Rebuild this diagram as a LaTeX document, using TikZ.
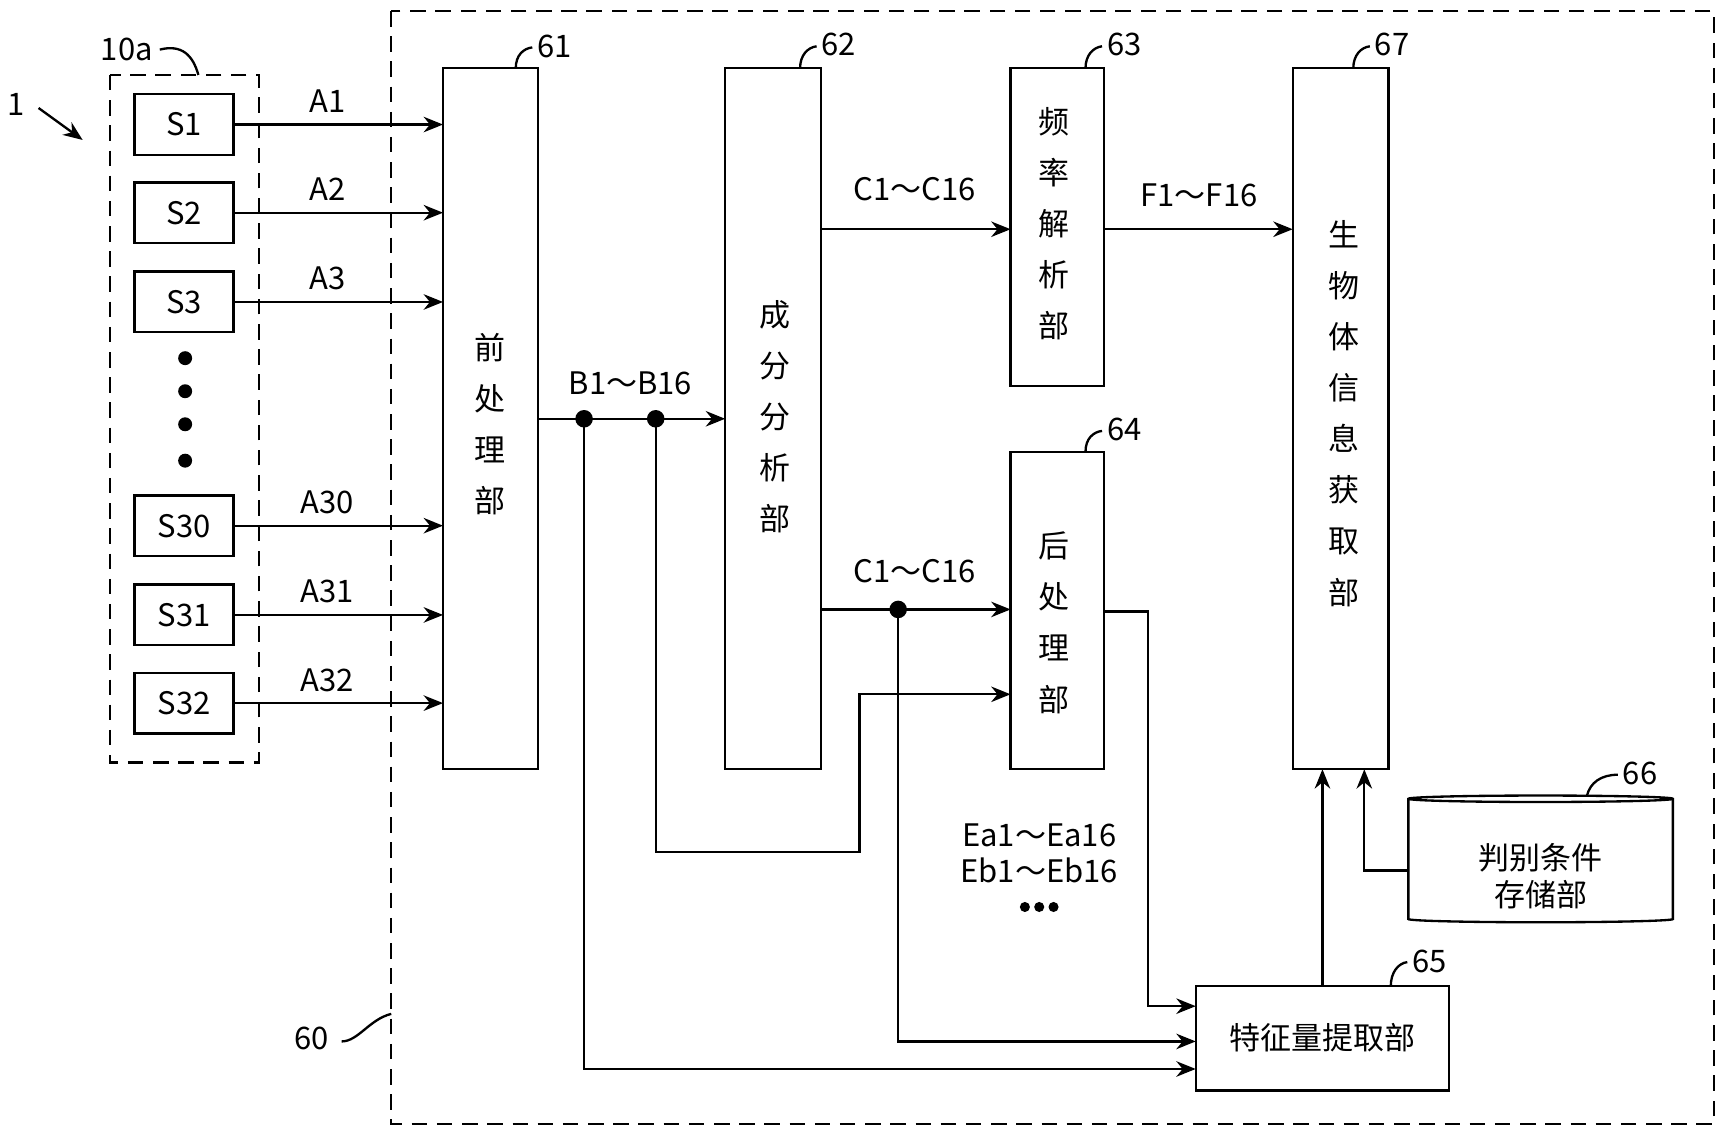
\documentclass[tikz,border=0pt]{standalone}
\usepackage{fontspec}
\setmainfont{Noto Sans CJK SC}
\usetikzlibrary{arrows.meta,shapes.geometric}
\begin{document}
\begin{tikzpicture}[x=0.01cm,y=-0.01cm,line width=0.6pt,
 lbl/.style={font=\fontsize{8}{10}\selectfont},
 num/.style={font=\fontsize{8}{10}\selectfont,anchor=west,inner sep=1pt},
 vt/.style={font=\fontsize{8}{13.2}\selectfont,align=center},
 arr/.style={-{Stealth[length=5pt,width=4pt]}},
 dot/.style={circle,fill,inner sep=1.6pt},
 dsh/.style={dash pattern=on 4pt off 2.5pt}]
\useasboundingbox (0,0) rectangle (1568,1033);
\draw[dsh] (355,10) rectangle (1555,1020);
\draw[dsh] (100,68) rectangle (235,692);
% sensors
\foreach \n/\y/\a in {1/113/A1,2/193/A2,3/274/A3,30/477/A30,31/558/A31,32/638/A32}{
 \node[draw,minimum width=90*0.01cm,minimum height=55*0.01cm,lbl] (s\n) at (167,\y) {S\n};
}
\foreach \y in {325,355,385,418}{\fill (168,\y) circle (1.8pt);}
% blocks
\node[draw,minimum width=86*0.01cm,minimum height=636*0.01cm] (b61) at (445,380) {};
\node[vt] at (445,385) {前\\处\\理\\部};
\node[draw,minimum width=87*0.01cm,minimum height=636*0.01cm] (b62) at (701.5,380) {};
\node[vt] at (703,378) {成\\分\\分\\析\\部};
\node[draw,minimum width=85*0.01cm,minimum height=288*0.01cm] (b63) at (959.5,206) {};
\node[vt] at (956,203) {频\\率\\解\\析\\部};
\node[draw,minimum width=85*0.01cm,minimum height=288*0.01cm] (b64) at (959.5,554) {};
\node[vt] at (956,565) {后\\处\\理\\部};
\node[draw,minimum width=87*0.01cm,minimum height=636*0.01cm] (b67) at (1216.5,380) {};
\node[vt] at (1220,375) {生\\物\\体\\信\\息\\获\\取\\部};
\node[draw,minimum width=230*0.01cm,minimum height=95*0.01cm,lbl] (b65) at (1200,942) {特征量提取部};
\node[draw,cylinder,shape border rotate=90,aspect=0.25,minimum width=240*0.01cm,minimum height=115*0.01cm] (b66) at (1398,782) {};
\node[align=center,font=\fontsize{8}{9.5}\selectfont] at (1398,795) {判别条件\\存储部};
% sensor arrows
\foreach \n/\y/\a in {1/113/A1,2/193/A2,3/274/A3,30/477/A30,31/558/A31,32/638/A32}{
 \draw[arr] (s\n.east) -- (402,\y);
 \node[lbl] at (297,\y-21) {\a};
}
% B line
\draw[arr] (488,380) -- (658,380);
\node[lbl] at (572,348) {B1～B16};
\node[dot] (d1) at (530,380) {};
\node[dot] (d2) at (595,380) {};
\draw[arr] (745,208) -- (917,208);
\node[lbl] at (830,172) {C1～C16};
\draw[arr] (1002,208) -- (1173,208);
\node[lbl] at (1088,177) {F1～F16};
\draw[arr] (745,553) -- (917,553);
\node[lbl] at (830,518) {C1～C16};
\node[dot] (d3) at (815,553) {};
\draw[arr] (d2.center) |- (780,773) |- (917,630);
\draw[arr] (d3.center) |- (1085,945);
\draw[arr] (d1.center) |- (1085,970);
\draw[arr] (1002,555) -| (1042,913) -- (1085,913);
\draw[arr] (b65.north -| 1200,0) -- (1200,698);
\draw[arr] (b66.west |- 0,790) -| (1238,698);
\node[lbl] at (943,758) {Ea1～Ea16};
\node[lbl] at (943,790) {Eb1～Eb16};
\foreach \x in {930,943,956}{\fill (\x,823) circle (1.3pt);}
% reference numerals
\draw (468,62) .. controls (468,50) and (475,44) .. (483,43);
\node[num] at (483,42) {61};
\draw (726,62) .. controls (726,50) and (733,43) .. (741,42);
\node[num] at (741,40) {62};
\draw (985,62) .. controls (985,50) and (992,43) .. (1000,42);
\node[num] at (1000,40) {63};
\draw (985,410) .. controls (985,398) and (992,392) .. (1000,391);
\node[num] at (1000,390) {64};
\draw (1228,62) .. controls (1228,50) and (1235,43) .. (1243,42);
\node[num] at (1243,40) {67};
\draw (1262,895) .. controls (1262,882) and (1269,874) .. (1277,873);
\node[num] at (1277,872) {65};
\draw (1440,722) .. controls (1443,710) and (1453,703) .. (1468,703);
\node[num] at (1468,702) {66};
\node[lbl] at (115,45) {10a};
\draw (145,45) .. controls (165,40) and (175,50) .. (180,68);
\node[lbl] at (15,95) {1};
\draw[arr] (35,98) -- (75,127);
\node[lbl] at (283,942) {60};
\draw (310,945) .. controls (325,945) and (335,925) .. (355,920);
\end{tikzpicture}
\end{document}
